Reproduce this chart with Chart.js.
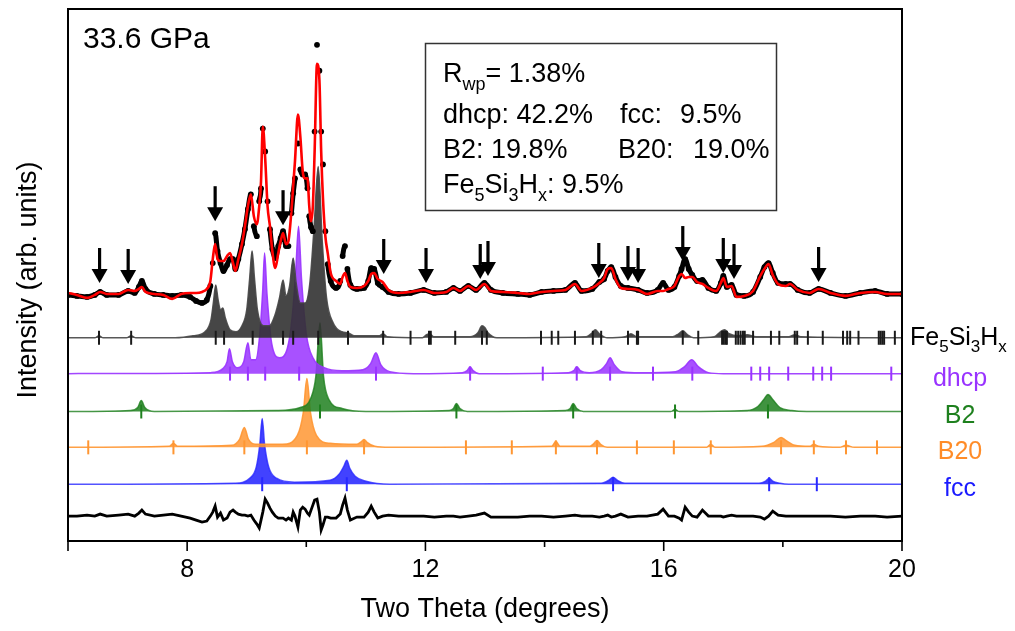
<!DOCTYPE html>
<html>
<head>
<meta charset="utf-8">
<title>Fe-Si-H 33.6 GPa refinement</title>
<script src="https://cdn.jsdelivr.net/npm/chart.js@4.4.0/dist/chart.umd.min.js"></script>
<style>
  html, body { margin: 0; padding: 0; background: #fff; }
  #wrap { width: 1015px; height: 631px; }
</style>
</head>
<body>
<div id="wrap"><canvas id="xrd" width="1015" height="631"></canvas></div>
<script>
// 2-theta grid shared by observed / calculated / difference patterns
const twoTheta = [
  6.00, 6.15, 6.32, 6.45, 6.54, 6.65, 6.85, 7.01, 7.12, 7.19, 7.24, 7.30, 7.45, 7.60, 7.75, 7.90,
  8.05, 8.15, 8.25, 8.33, 8.39, 8.43, 8.47, 8.51, 8.56, 8.61, 8.67, 8.72, 8.77, 8.81, 8.86, 8.92,
  8.97, 9.02, 9.07, 9.12, 9.17, 9.21, 9.24, 9.27, 9.31, 9.35, 9.39, 9.43, 9.48, 9.53, 9.57, 9.61,
  9.66, 9.70, 9.75, 9.78, 9.81, 9.86, 9.90, 9.94, 9.98, 10.02, 10.05, 10.08, 10.11, 10.14, 10.18, 10.22,
  10.25, 10.28, 10.32, 10.36, 10.41, 10.50, 10.57, 10.61, 10.65, 10.69, 10.74, 10.85, 10.97, 11.04, 11.09, 11.14,
  11.20, 11.28, 11.38, 11.55, 11.75, 11.97, 12.15, 12.35, 12.47, 12.58, 12.72, 12.85, 12.99, 13.10, 13.30, 13.55,
  13.75, 13.95, 14.15, 14.35, 14.51, 14.62, 14.80, 14.92, 15.00, 15.06, 15.12, 15.19, 15.28, 15.40, 15.57, 15.72,
  15.90, 15.99, 16.08, 16.18, 16.26, 16.30, 16.36, 16.42, 16.48, 16.56, 16.65, 16.75, 16.88, 16.96, 17.00, 17.06,
  17.14, 17.22, 17.35, 17.50, 17.62, 17.69, 17.76, 17.83, 17.92, 18.05, 18.12, 18.25, 18.45, 18.60, 18.80, 19.05,
  19.30, 19.55, 19.75, 20.00
];
const yObs = [
  247, 246, 245, 247, 250, 247, 247, 251, 249, 255, 261, 253, 248, 247, 246, 247,
  245, 241, 239, 242, 256, 279, 309, 291, 279, 271, 277, 283, 283, 273, 283, 298,
  313, 333, 348, 316, 306, 341, 354, 414, 391, 341, 313, 293, 284, 296, 304, 311,
  296, 296, 329, 349, 364, 399, 373, 368, 368, 354, 326, 315, 311, 411, 498, 472,
  411, 378, 311, 278, 261, 254, 261, 286, 296, 273, 257, 253, 254, 261, 274, 273,
  259, 255, 250, 248, 249, 252, 249, 250, 254, 251, 256, 252, 259, 252, 249, 248,
  247, 250, 251, 252, 259, 251, 253, 260, 263, 271, 275, 265, 256, 254, 252, 249,
  252, 259, 252, 255, 266, 273, 283, 273, 267, 261, 262, 254, 251, 259, 266, 255,
  257, 247, 246, 250, 265, 275, 279, 269, 259, 258, 258, 252, 249, 253, 249, 246,
  249, 251, 248, 248
];
const yCalc = [
  249, 247, 244, 247, 250, 248, 248, 252, 251, 253, 255, 250, 248, 247, 243, 248,
  249, 249, 250, 253, 261, 283, 298, 283, 281, 281, 286, 289, 279, 271, 283, 298,
  316, 336, 348, 326, 318, 336, 361, 416, 384, 336, 316, 291, 274, 289, 301, 309,
  298, 301, 331, 356, 381, 428, 406, 371, 364, 364, 336, 321, 336, 391, 479, 463,
  391, 344, 306, 289, 269, 261, 258, 265, 269, 261, 255, 254, 256, 261, 268, 269,
  263, 260, 252, 249, 250, 252, 249, 250, 254, 251, 256, 252, 258, 251, 250, 249,
  248, 250, 251, 252, 258, 251, 254, 259, 264, 273, 274, 263, 254, 253, 252, 248,
  251, 251, 253, 256, 266, 268, 264, 265, 265, 260, 258, 254, 251, 259, 264, 255,
  256, 245, 246, 251, 266, 273, 278, 267, 258, 256, 258, 252, 249, 253, 249, 246,
  249, 250, 248, 248
];
const yDiff = [
  25, 25, 26, 25, 27, 25, 26, 27, 25, 28, 31, 27, 25, 26, 27, 25,
  23, 21, 19, 20, 25, 29, 35, 24, 28, 21, 23, 29, 31, 29, 27, 26,
  26, 25, 26, 21, 17, 13, 21, 29, 42, 38, 33, 29, 25, 23, 23, 23,
  21, 23, 21, 29, 25, 14, 31, 34, 32, 28, 26, 31, 36, 41, 42, 29,
  11, 16, 24, 24, 23, 23, 27, 36, 43, 31, 21, 24, 24, 29, 35, 29,
  23, 25, 26, 25, 25, 25, 24, 25, 25, 24, 25, 26, 28, 24, 24, 24,
  25, 25, 24, 25, 26, 25, 25, 24, 25, 26, 24, 25, 27, 24, 25, 25,
  27, 32, 25, 25, 23, 21, 34, 29, 25, 24, 31, 25, 25, 25, 24, 25,
  26, 25, 25, 25, 24, 22, 25, 30, 26, 25, 25, 25, 25, 25, 25, 24,
  25, 25, 24, 25
];

// calculated phase profiles: [2theta, height above the phase baseline]
const profFe5Si3Hx = [
  [6.0, 0], [6.45, 0], [6.52, 2], [6.59, 0], [6.98, 0], [7.06, 2], [7.14, 0], [7.8, 0], [8.1, 2], [8.3, 6],
  [8.4, 18], [8.44, 35], [8.48, 53], [8.52, 38], [8.56, 28], [8.6, 30], [8.64, 20], [8.72, 8], [8.82, 6],
  [8.92, 12], [9.0, 28], [9.05, 60], [9.09, 87], [9.13, 60], [9.18, 28], [9.28, 12], [9.38, 12], [9.47, 22],
  [9.55, 40], [9.61, 58], [9.66, 42], [9.72, 52], [9.78, 80], [9.83, 55], [9.9, 35], [9.98, 35], [10.06, 55],
  [10.13, 110], [10.2, 172], [10.27, 95], [10.34, 40], [10.45, 15], [10.6, 6], [10.7, 5], [10.8, 2], [11.0, 2],
  [11.22, 2], [11.29, 4], [11.36, 1], [11.95, 0], [12.02, 3], [12.07, 4], [12.14, 1], [12.75, 1], [12.88, 5],
  [12.95, 12], [13.0, 10], [13.05, 5], [13.2, 0], [14.7, 1], [14.8, 5], [14.85, 8], [14.92, 4], [15.05, 0],
  [15.35, 1], [15.45, 4], [15.55, 1], [16.15, 1], [16.25, 4], [16.32, 7], [16.4, 3], [16.5, 0], [16.85, 1],
  [16.95, 6], [17.02, 8], [17.1, 4], [17.25, 2], [17.4, 3], [17.55, 1], [18.1, 1], [18.2, 3], [18.3, 1], [20.0, 0]
];
const profDhcp = [
  [6.0, 0], [8.4, 1], [8.6, 5], [8.67, 12], [8.71, 25], [8.76, 12], [8.84, 6], [8.95, 12], [9.02, 31], [9.07, 14],
  [9.15, 14], [9.22, 40], [9.27, 85], [9.3, 121], [9.34, 80], [9.42, 30], [9.55, 16], [9.68, 25], [9.76, 55],
  [9.82, 100], [9.87, 148], [9.92, 95], [10.0, 40], [10.12, 15], [10.3, 6], [10.6, 3], [10.95, 4], [11.08, 10],
  [11.17, 21], [11.25, 9], [11.4, 2], [11.8, 0], [12.62, 1], [12.7, 3], [12.75, 7], [12.8, 3], [12.9, 0],
  [14.4, 1], [14.49, 3], [14.54, 7], [14.6, 3], [14.75, 1], [14.95, 4], [15.04, 10], [15.1, 16], [15.17, 9],
  [15.3, 2], [15.6, 1], [16.2, 2], [16.35, 7], [16.47, 14], [16.58, 7], [16.75, 1], [17.0, 0], [20.0, 0]
];
const profB2 = [
  [6.0, 0], [7.05, 1], [7.17, 4], [7.23, 11], [7.29, 4], [7.45, 0], [9.5, 1], [9.9, 4], [10.08, 14], [10.16, 35],
  [10.23, 89], [10.29, 35], [10.38, 12], [10.6, 3], [11.0, 0], [12.4, 1], [12.47, 3], [12.52, 8], [12.58, 3],
  [12.7, 0], [14.35, 1], [14.43, 3], [14.48, 8], [14.54, 3], [14.65, 0], [16.12, 0], [16.19, 2], [16.26, 0],
  [17.4, 1], [17.58, 5], [17.68, 12], [17.75, 17], [17.83, 12], [17.95, 4], [18.15, 1], [18.4, 0], [20.0, 0]
];
const profB20 = [
  [6.0, 0], [7.7, 1], [7.77, 4], [7.84, 1], [8.75, 2], [8.88, 8], [8.96, 20], [9.03, 8], [9.15, 3], [9.6, 3],
  [9.85, 12], [9.95, 35], [10.01, 69], [10.07, 35], [10.17, 12], [10.4, 4], [10.85, 3], [10.93, 6], [10.97, 8],
  [11.02, 5], [11.15, 1], [11.4, 0], [14.12, 1], [14.19, 6], [14.26, 1], [14.76, 1], [14.83, 4], [14.88, 7],
  [14.94, 3], [15.05, 0], [16.72, 0], [16.79, 3], [16.86, 0], [17.65, 1], [17.85, 5], [17.97, 10], [18.05, 7],
  [18.2, 2], [18.45, 1], [18.52, 3], [18.6, 1], [18.95, 0], [19.06, 2], [19.2, 0], [20.0, 0]
];
const profFcc = [
  [6.0, 0], [8.8, 1], [9.05, 6], [9.16, 17], [9.22, 40], [9.26, 66], [9.3, 40], [9.37, 17], [9.5, 6], [9.8, 2],
  [10.4, 4], [10.55, 10], [10.63, 18], [10.68, 24], [10.73, 16], [10.82, 8], [11.0, 3], [11.4, 0], [14.95, 1],
  [15.08, 4], [15.15, 7], [15.22, 4], [15.35, 1], [17.6, 1], [17.71, 3], [17.77, 6], [17.83, 3], [17.95, 1],
  [18.1, 0], [20.0, 0]
];

// Bragg reflection positions (2theta) for each phase
const ticksFe5Si3Hx = [
  6.52, 7.06, 8.48, 8.62, 9.10, 9.61, 9.78, 10.20, 10.70, 11.29, 11.75, 12.06, 12.09, 12.50, 12.95, 13.03,
  13.94, 14.12, 14.23, 14.51, 14.81, 14.95, 15.40, 15.55, 15.57, 16.32, 16.58, 16.98, 17.01, 17.04, 17.06,
  17.21, 17.25, 17.29, 17.33, 17.36, 17.50, 17.80, 17.94, 18.20, 18.24, 18.42, 18.67, 19.01, 19.08, 19.13,
  19.27, 19.61, 19.64, 19.67, 19.70, 19.88
];
const ticksDhcp = [8.72, 9.02, 9.31, 9.88, 11.17, 12.75, 13.97, 14.54, 15.10, 15.82, 16.48, 17.47, 17.62, 17.77, 18.09, 18.51, 18.66, 18.81, 19.82];
const ticksB2 = [7.23, 10.23, 12.52, 14.48, 16.19, 17.75];
const ticksB20 = [6.34, 7.77, 8.96, 10.01, 10.97, 12.68, 13.45, 14.19, 14.88, 15.55, 16.17, 16.79, 17.97, 18.52, 19.06, 19.58];
const ticksFcc = [9.26, 10.68, 15.15, 17.77, 18.57];

// vertical baselines of the stacked profiles (Fe5Si3Hx, dhcp, B2, B20, fcc)
const phaseBase = [204, 168, 130, 94, 57];

// unindexed peaks marked with arrows: position and arrow tip height
const arrowPos = [6.53, 7.01, 8.47, 9.61, 11.30, 12.01, 12.92, 13.05, 14.91, 15.40, 15.57, 16.32, 17.00, 17.18, 18.60];
const arrowTip = [259, 258, 321, 317, 268, 259, 263, 266, 264, 261, 259, 281, 269, 263, 260];

const xTickLabels = [8, 12, 16, 20];

const FONT = '"Liberation Sans", Arial, Helvetica, sans-serif';

const phases = [
  { prof: profFe5Si3Hx, ticks: ticksFe5Si3Hx, line: 'rgba(70,70,70,0.9)', fill: 'rgba(50,50,50,0.9)', tick: '#1a1a1a' },
  { prof: profDhcp, ticks: ticksDhcp, line: 'rgba(153,51,255,0.9)', fill: 'rgba(153,51,255,0.85)', tick: '#9933ff' },
  { prof: profB2, ticks: ticksB2, line: 'rgba(30,128,30,0.8)', fill: 'rgba(30,128,30,0.85)', tick: '#1e801e' },
  { prof: profB20, ticks: ticksB20, line: 'rgba(255,150,50,0.9)', fill: 'rgba(255,150,50,0.85)', tick: '#ff9632' },
  { prof: profFcc, ticks: ticksFcc, line: 'rgba(40,40,255,0.8)', fill: 'rgba(40,40,255,0.88)', tick: '#2828ff' }
];

// observed points: thick band on flat stretches, only dots on the steepest flanks
const steep = ctx => Math.abs(ctx.p1.parsed.y - ctx.p0.parsed.y) > 22;

const datasets = [
  {
    label: 'calc', order: 1,
    data: twoTheta.map((x, i) => ({ x, y: yCalc[i] })),
    borderColor: '#ff0000', borderWidth: 2.6, pointRadius: 0,
    cubicInterpolationMode: 'monotone', fill: false
  },
  {
    label: 'obs', order: 2,
    data: twoTheta.map((x, i) => ({ x, y: yObs[i] })),
    borderColor: '#000', borderWidth: 5, pointRadius: 2.9,
    pointBackgroundColor: '#000', pointBorderWidth: 0,
    segment: { borderColor: ctx => steep(ctx) ? 'rgba(0,0,0,0)' : undefined },
    cubicInterpolationMode: 'monotone', fill: false
  },
  {
    label: 'diff', order: 3,
    data: twoTheta.map((x, i) => ({ x, y: yDiff[i] })),
    borderColor: '#000', borderWidth: 2.8, pointRadius: 0, tension: 0, fill: false
  }
];

phases.forEach((p, k) => {
  const base = phaseBase[k];
  datasets.push({
    label: 'ticks' + k, order: 4,
    data: p.ticks.map(x => ({ x, y: base })),
    showLine: false, pointStyle: 'line', rotation: 90, pointRadius: 7,
    borderColor: p.tick, borderWidth: 2, pointBorderColor: p.tick, pointBorderWidth: 2
  });
  datasets.push({
    label: 'phase' + k, order: 5 + k,
    data: p.prof.map(([x, h]) => ({ x, y: base + h })),
    borderColor: p.line, borderWidth: 1.5, pointRadius: 0,
    backgroundColor: p.fill, fill: { value: base },
    cubicInterpolationMode: 'monotone'
  });
});

function drawRich(ctx, x, y, parts, size) {
  ctx.textBaseline = 'alphabetic';
  ctx.textAlign = 'left';
  parts.forEach(([txt, sub]) => {
    const s = sub ? Math.round(size * 0.66) : size;
    ctx.font = s + 'px ' + FONT;
    ctx.fillText(txt, x, sub ? y + size * 0.3 : y);
    x += ctx.measureText(txt).width;
  });
  return x;
}

const decor = {
  id: 'decor',
  afterDatasetsDraw(chart) {
    const { ctx, chartArea: a, scales: { x, y } } = chart;
    ctx.save();

    // arrows
    ctx.fillStyle = '#000';
    ctx.strokeStyle = '#000';
    arrowPos.forEach((t, i) => {
      const px = x.getPixelForValue(t);
      const tip = y.getPixelForValue(arrowTip[i]);
      ctx.lineWidth = 3.2;
      ctx.beginPath();
      ctx.moveTo(px, tip - 35);
      ctx.lineTo(px, tip - 10);
      ctx.stroke();
      ctx.beginPath();
      ctx.moveTo(px - 8, tip - 14);
      ctx.lineTo(px + 8, tip - 14);
      ctx.lineTo(px, tip);
      ctx.closePath();
      ctx.fill();
    });

    // frame
    ctx.lineWidth = 2;
    ctx.strokeStyle = '#000';
    ctx.strokeRect(a.left, a.top, a.right - a.left, a.bottom - a.top);

    // bottom tick marks
    ctx.lineWidth = 1.6;
    for (let v = 6; v <= 20; v += 2) {
      const px = x.getPixelForValue(v);
      const len = (v % 4 === 0 || v === 6) ? 10 : 6;
      ctx.beginPath();
      ctx.moveTo(px, a.bottom);
      ctx.lineTo(px, a.bottom + len);
      ctx.stroke();
    }

    // pressure label
    ctx.fillStyle = '#000';
    ctx.font = '30px ' + FONT;
    ctx.textBaseline = 'alphabetic';
    ctx.textAlign = 'left';
    ctx.fillText('33.6 GPa', 83, 48);

    // refinement box
    ctx.lineWidth = 1.5;
    ctx.strokeStyle = '#333';
    ctx.strokeRect(425.5, 43.5, 351, 167);
    const fs = 27;
    drawRich(ctx, 443, 82, [['R'], ['wp', true], ['= 1.38%']], fs);
    drawRich(ctx, 443, 123, [['dhcp: 42.2%']], fs);
    drawRich(ctx, 620, 123, [['fcc:']], fs);
    drawRich(ctx, 680, 123, [['9.5%']], fs);
    drawRich(ctx, 443, 158, [['B2: 19.8%']], fs);
    drawRich(ctx, 618, 158, [['B20:']], fs);
    drawRich(ctx, 693, 158, [['19.0%']], fs);
    drawRich(ctx, 443, 193, [['Fe'], ['5', true], ['Si'], ['3', true], ['H'], ['x', true], [': 9.5%']], fs);

    // phase names at the right of each profile
    const names = [null, 'dhcp', 'B2', 'B20', 'fcc'];
    const cols = ['#000', '#9933ff', '#1e801e', '#ff8c28', '#1a1aff'];
    phaseBase.forEach((b, k) => {
      const py = y.getPixelForValue(b);
      ctx.fillStyle = cols[k];
      if (k === 0) {
        drawRich(ctx, 910, py + 7, [['Fe'], ['5', true], ['Si'], ['3', true], ['H'], ['x', true]], 25);
      } else {
        ctx.font = '25px ' + FONT;
        ctx.textAlign = 'center';
        ctx.textBaseline = 'alphabetic';
        ctx.fillText(names[k], 960, py + 12);
      }
    });

    // axis titles
    ctx.fillStyle = '#000';
    ctx.font = '27px ' + FONT;
    ctx.textAlign = 'center';
    ctx.textBaseline = 'middle';
    ctx.fillText('Two Theta (degrees)', (a.left + a.right) / 2, 610);
    ctx.translate(29, 280);
    ctx.rotate(-Math.PI / 2);
    ctx.fillText('Intensity (arb. units)', 0, 0);
    ctx.restore();
  }
};

new Chart(document.getElementById('xrd'), {
  type: 'line',
  data: { datasets },
  options: {
    responsive: false,
    animation: false,
    devicePixelRatio: 1,
    layout: { padding: { left: 68, right: 113, top: 7, bottom: 0 } },
    plugins: { legend: { display: false }, tooltip: { enabled: false } },
    scales: {
      x: {
        type: 'linear', min: 6, max: 20,
        afterFit(scale) { scale.height = 90; },
        grid: { display: false, drawTicks: false },
        border: { display: false },
        ticks: {
          stepSize: 2, padding: 14, color: '#000', maxRotation: 0, autoSkip: false,
          font: { family: FONT, size: 25 },
          callback: v => xTickLabels.includes(v) ? String(v) : ''
        }
      },
      y: { display: false, min: 0, max: 534 }
    }
  },
  plugins: [decor]
});
</script>
</body>
</html>
